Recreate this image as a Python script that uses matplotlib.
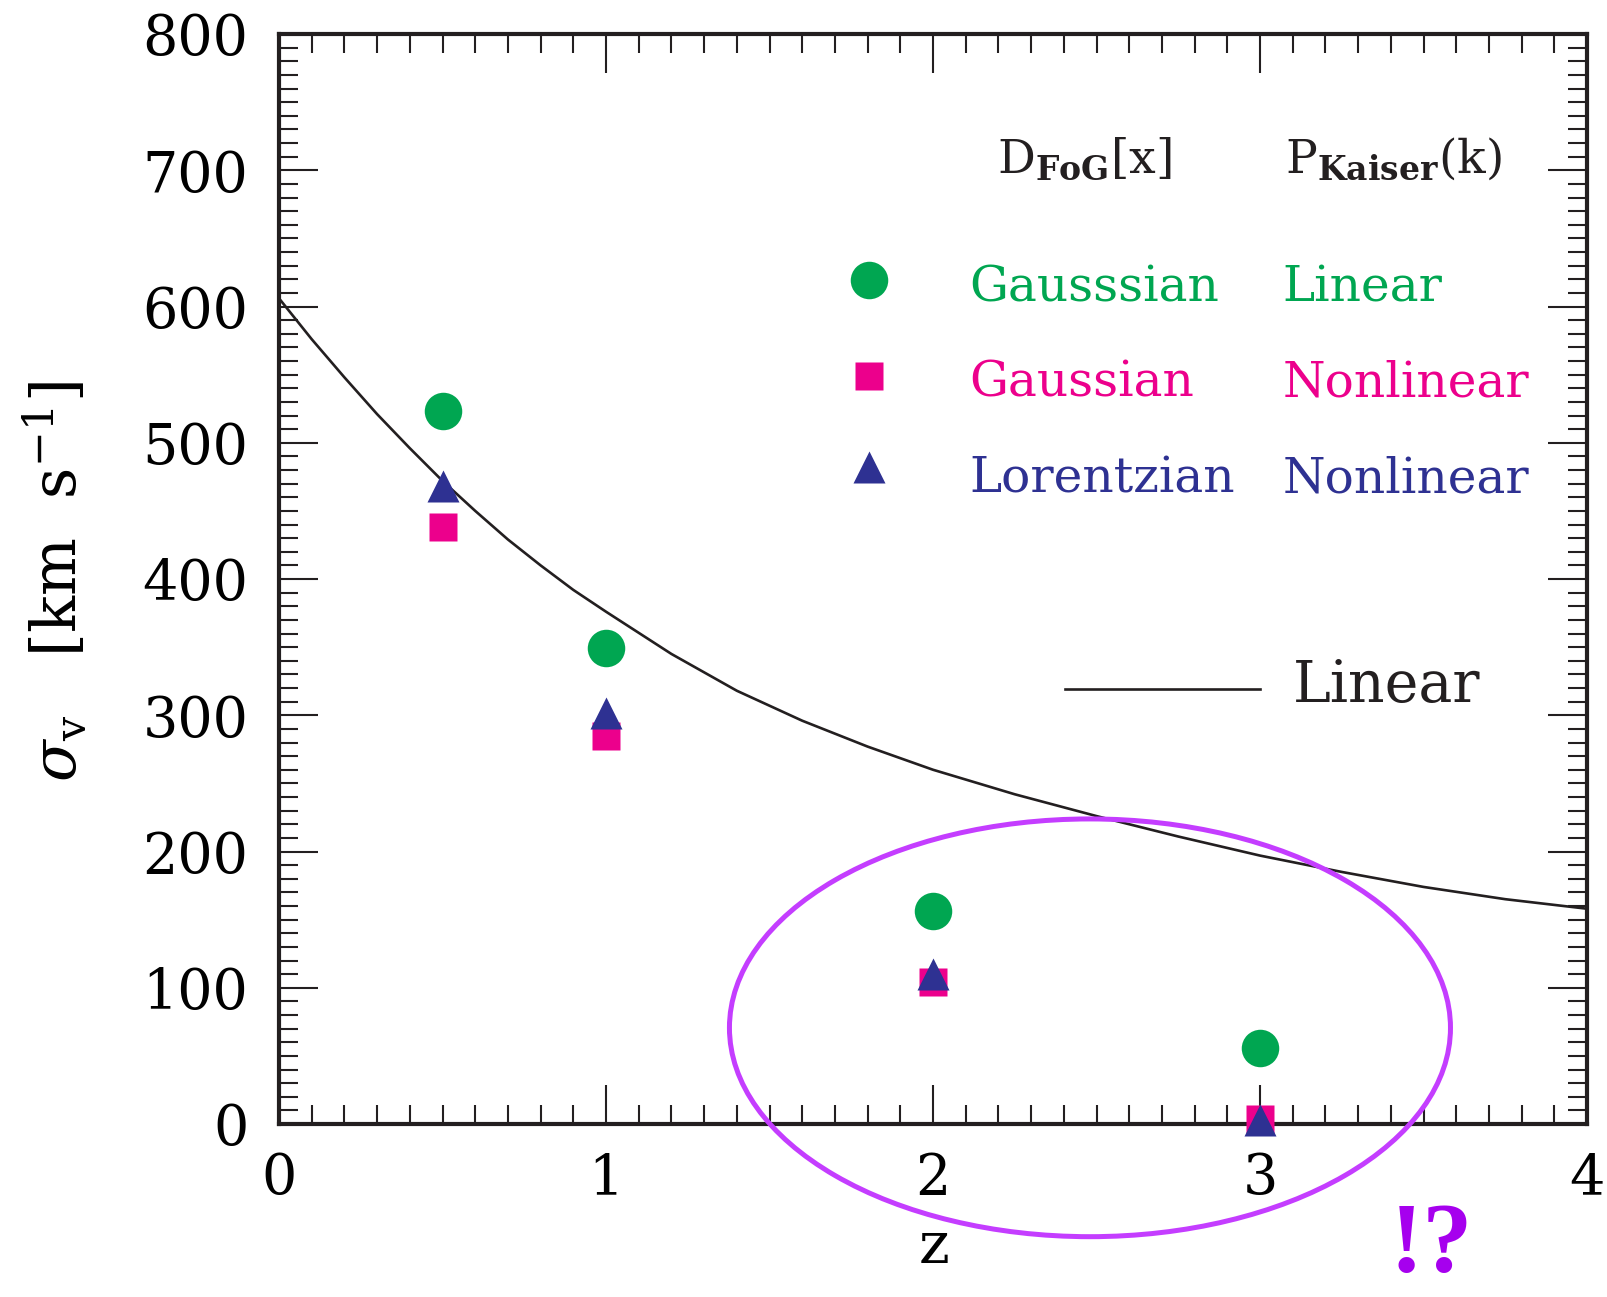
import matplotlib
matplotlib.use("Agg")
import matplotlib.pyplot as plt
from matplotlib.patches import Ellipse
from matplotlib.ticker import MultipleLocator

# data
z_pts = [0.5, 1.0, 2.0, 3.0]
sig_gauss_lin = [523, 349, 156, 56]      # green circles
sig_gauss_nl = [438, 285, 104, 4]        # magenta squares
sig_lor_nl = [468, 302, 110, 3]          # blue triangles

# linear-theory curve, read point by point
z_lin = [0.0, 0.1, 0.2, 0.3, 0.4, 0.5, 0.6, 0.7, 0.8, 0.9, 1.0,
         1.2, 1.4, 1.6, 1.8, 2.0, 2.25, 2.5, 2.75, 3.0, 3.25, 3.5, 3.75, 4.0]
sig_lin = [606, 576, 548, 521, 496, 472, 450, 429, 410, 392, 376,
           345, 318, 296, 277, 260, 242, 226, 211, 197, 185, 174, 165, 158]

green = '#00A651'
magenta = '#EC008C'
navy = '#2E3192'
ink = '#231f20'

plt.rcParams['font.family'] = ['DejaVu Serif']
plt.rcParams['mathtext.fontset'] = 'dejavuserif'

fig = plt.figure(figsize=(16.07, 12.97), dpi=100)
ax = fig.add_axes([279/1607, 1 - 1124/1297, 1308/1607, 1090/1297])

ax.plot(z_lin, sig_lin, color=ink, lw=1.9, zorder=2)
ax.plot(z_pts, sig_gauss_lin, 'o', ms=27, color=green, mec='none', clip_on=False, zorder=3)
ax.plot(z_pts, sig_gauss_nl, 's', ms=20, color=magenta, mec='none', clip_on=False, zorder=3)
ax.plot(z_pts, sig_lor_nl, '^', ms=23, color=navy, mec='none', clip_on=False, zorder=4)

ax.set_xlim(0, 4)
ax.set_ylim(0, 800)
ax.xaxis.set_major_locator(MultipleLocator(1))
ax.xaxis.set_minor_locator(MultipleLocator(0.1))
ax.yaxis.set_major_locator(MultipleLocator(100))
ax.yaxis.set_minor_locator(MultipleLocator(10))
ax.tick_params(which='both', direction='in', top=True, right=True, color=ink)
ax.tick_params(which='major', length=28, width=1.5)
ax.tick_params(which='minor', length=14, width=1.5)
ax.tick_params(axis='x', which='major', labelsize=40, pad=20)
ax.tick_params(axis='y', which='major', labelsize=40, pad=22)
for s in ax.spines.values():
    s.set_linewidth(3)
    s.set_color(ink)

ax.text(0.501, -0.1275, 'z', transform=ax.transAxes, ha='center', va='baseline', fontsize=42)
ax.text(-0.170, 0.498, r'$\sigma_{\mathrm{v}}$   [km  s$^{-1}$]', transform=ax.transAxes,
        rotation=90, ha='center', va='center', fontsize=44)

# legend block
ax.text(0.5486, 0.8725, r'D$_{\mathbf{FoG}}$[x]', transform=ax.transAxes, fontsize=34, va='baseline', color=ink)
ax.text(0.769, 0.8725, r'P$_{\mathbf{Kaiser}}$(k)', transform=ax.transAxes, fontsize=34, va='baseline', color=ink)

rows = [('o', 27, green, 'Gausssian', 'Linear', 0.7743, 0.7544),
        ('s', 20, magenta, 'Gaussian', 'Nonlinear', 0.6862, 0.6672),
        ('^', 23, navy, 'Lorentzian', 'Nonlinear', 0.603, 0.5792)]
for mk, ms, col, t1, t2, ym, yt in rows:
    ax.plot([0.4508], [ym], mk, ms=ms, color=col, mec='none', transform=ax.transAxes, clip_on=False)
    ax.text(0.5277, yt, t1, transform=ax.transAxes, fontsize=35, color=col, va='baseline')
    ax.text(0.7673, yt, t2, transform=ax.transAxes, fontsize=35, color=col, va='baseline')

ax.plot([0.601, 0.750], [0.399, 0.399], color=ink, lw=1.9, transform=ax.transAxes)
ax.text(0.775, 0.387, 'Linear', transform=ax.transAxes, fontsize=41, va='baseline', color=ink)

# highlight ring
ax.add_patch(Ellipse((2.48, 70.6), 2.205, 306.6, fill=False, ec='#C43DFF', lw=3.6, clip_on=False, zorder=5))
fig.text(1431/1607, 1 - 1247/1297, '!?', ha='center', va='center', fontsize=72,
         fontweight='bold', color='#A600EE', family='Liberation Serif')

fig.savefig('out.png', dpi=100)
